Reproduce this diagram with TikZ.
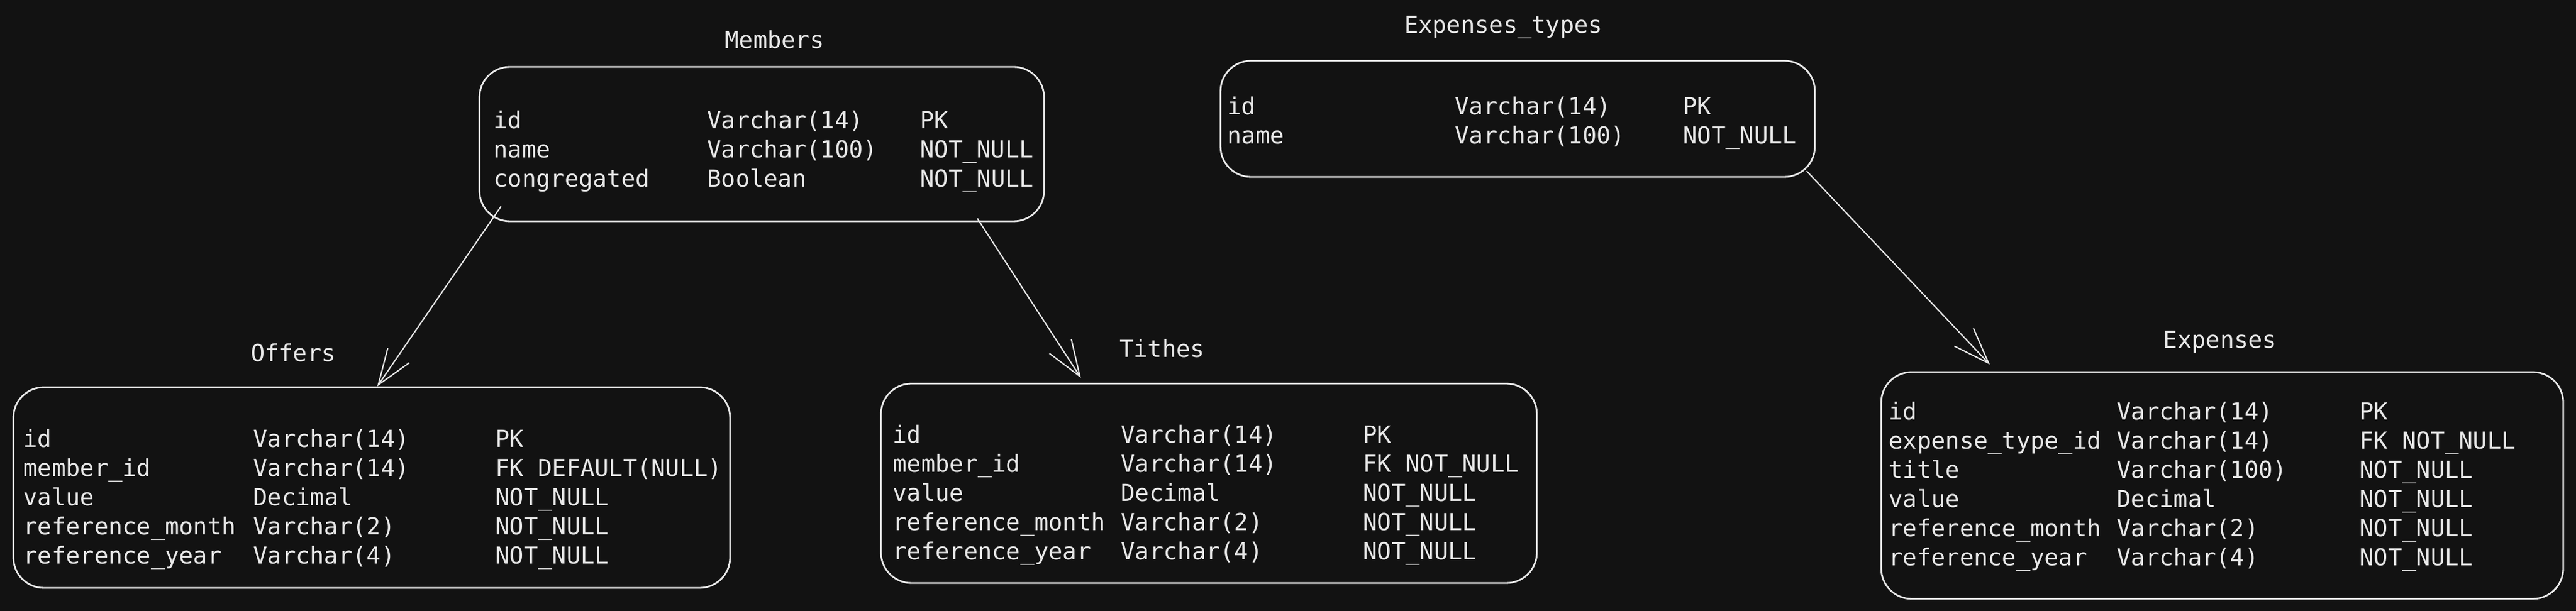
\documentclass[tikz,border=0pt]{standalone}
\usepackage{fontspec}
\setmonofont{DejaVu Sans Mono}
\usetikzlibrary{arrows.meta,positioning,calc}

\definecolor{canvas}{HTML}{121212}
\definecolor{ink}{HTML}{E8E8E8}
\setlength{\tabcolsep}{0pt}
\newcommand{\fieldrows}[3]{\begin{tabular}[t]{@{}p{#1}p{#2}l@{}}#3\end{tabular}}

\begin{document}
\begin{tikzpicture}[
        ->,
        >={Straight Barb[length=5.9mm,width=4.3mm]}, % open sketch arrow head
        line width=0.6pt,
        font=\ttfamily\fontsize{11}{13.66}\selectfont]

        \tikzstyle{every edge}=[
            draw = ink,
            line width=0.6pt
        ]
        \tikzset{tablebox/.style={draw=ink, line width=0.8pt, rounded corners=5mm, inner sep=0pt}}
        \tikzset{tabletitle/.style={text=ink, inner sep=0pt, text depth=0pt}}
        \tikzset{fields/.style={text=ink, inner sep=0pt, anchor=base west}}

        \fill[canvas] (0,0) rectangle (42.34,10.05);

        % boxes
        \node[tablebox, minimum width=9.28cm, minimum height=2.54cm] (members) at (12.52,7.68) {};
        \node[tablebox, minimum width=11.78cm, minimum height=3.30cm] (offers) at (6.11,2.03) {};
        \node[tablebox, minimum width=10.78cm, minimum height=3.28cm] (tithes) at (19.87,2.10) {};
        \node[tablebox, minimum width=9.77cm, minimum height=1.91cm] (exptypes) at (24.945,8.095) {};
        \node[tablebox, minimum width=11.21cm, minimum height=3.73cm] (expenses) at (36.525,2.065) {};

        % titles
        \node[tabletitle, above=0.28cm of members, xshift=0.21cm] (members-title) {Members};
        \node[tabletitle, above=0.40cm of offers, xshift=-1.29cm] (offers-title) {Offers};
        \node[tabletitle, above=0.41cm of tithes, xshift=-0.77cm] (tithes-title) {Tithes};
        \node[tabletitle, above=0.43cm of exptypes, xshift=-0.235cm] (exptypes-title) {Expenses\_types};
        \node[tabletitle, above=0.37cm of expenses, xshift=-0.035cm] (expenses-title) {Expenses};

        % columns
        \node[fields] (members-fields) at ($(members.north west)+(0.24,-1.03)$)
            {\fieldrows{3.51cm}{3.50cm}{
            id & Varchar(14) & PK\\
            name & Varchar(100) & NOT\_NULL\\
            congregated & Boolean & NOT\_NULL}};
        \node[fields] (offers-fields) at ($(offers.north west)+(0.17,-1.00)$)
            {\fieldrows{3.78cm}{3.98cm}{
            id & Varchar(14) & PK\\
            member\_id & Varchar(14) & FK DEFAULT(NULL)\\
            value & Decimal & NOT\_NULL\\
            reference\_month & Varchar(2) & NOT\_NULL\\
            reference\_year & Varchar(4) & NOT\_NULL}};
        \node[fields] (tithes-fields) at ($(tithes.north west)+(0.20,-0.99)$)
            {\fieldrows{3.75cm}{3.98cm}{
            id & Varchar(14) & PK\\
            member\_id & Varchar(14) & FK NOT\_NULL\\
            value & Decimal & NOT\_NULL\\
            reference\_month & Varchar(2) & NOT\_NULL\\
            reference\_year & Varchar(4) & NOT\_NULL}};
        \node[fields] (exptypes-fields) at ($(exptypes.north west)+(0.12,-0.90)$)
            {\fieldrows{3.74cm}{3.75cm}{
            id & Varchar(14) & PK\\
            name & Varchar(100) & NOT\_NULL}};
        \node[fields] (expenses-fields) at ($(expenses.north west)+(0.13,-0.80)$)
            {\fieldrows{3.75cm}{3.99cm}{
            id & Varchar(14) & PK\\
            expense\_type\_id & Varchar(14) & FK NOT\_NULL\\
            title & Varchar(100) & NOT\_NULL\\
            value & Decimal & NOT\_NULL\\
            reference\_month & Varchar(2) & NOT\_NULL\\
            reference\_year & Varchar(4) & NOT\_NULL}};

        \path
        ($(members.south west)+(0.37,0.26)$) edge ($(offers.north)+(0.09,0)$)
        ($(members.south east)+(-1.11,0.06)$) edge ($(tithes.north west)+(3.30,0.08)$)
        ($(exptypes.south east)+(-0.15,0.11)$) edge ($(expenses.north west)+(1.80,0.11)$)
        ;
    \end{tikzpicture}
\end{document}
